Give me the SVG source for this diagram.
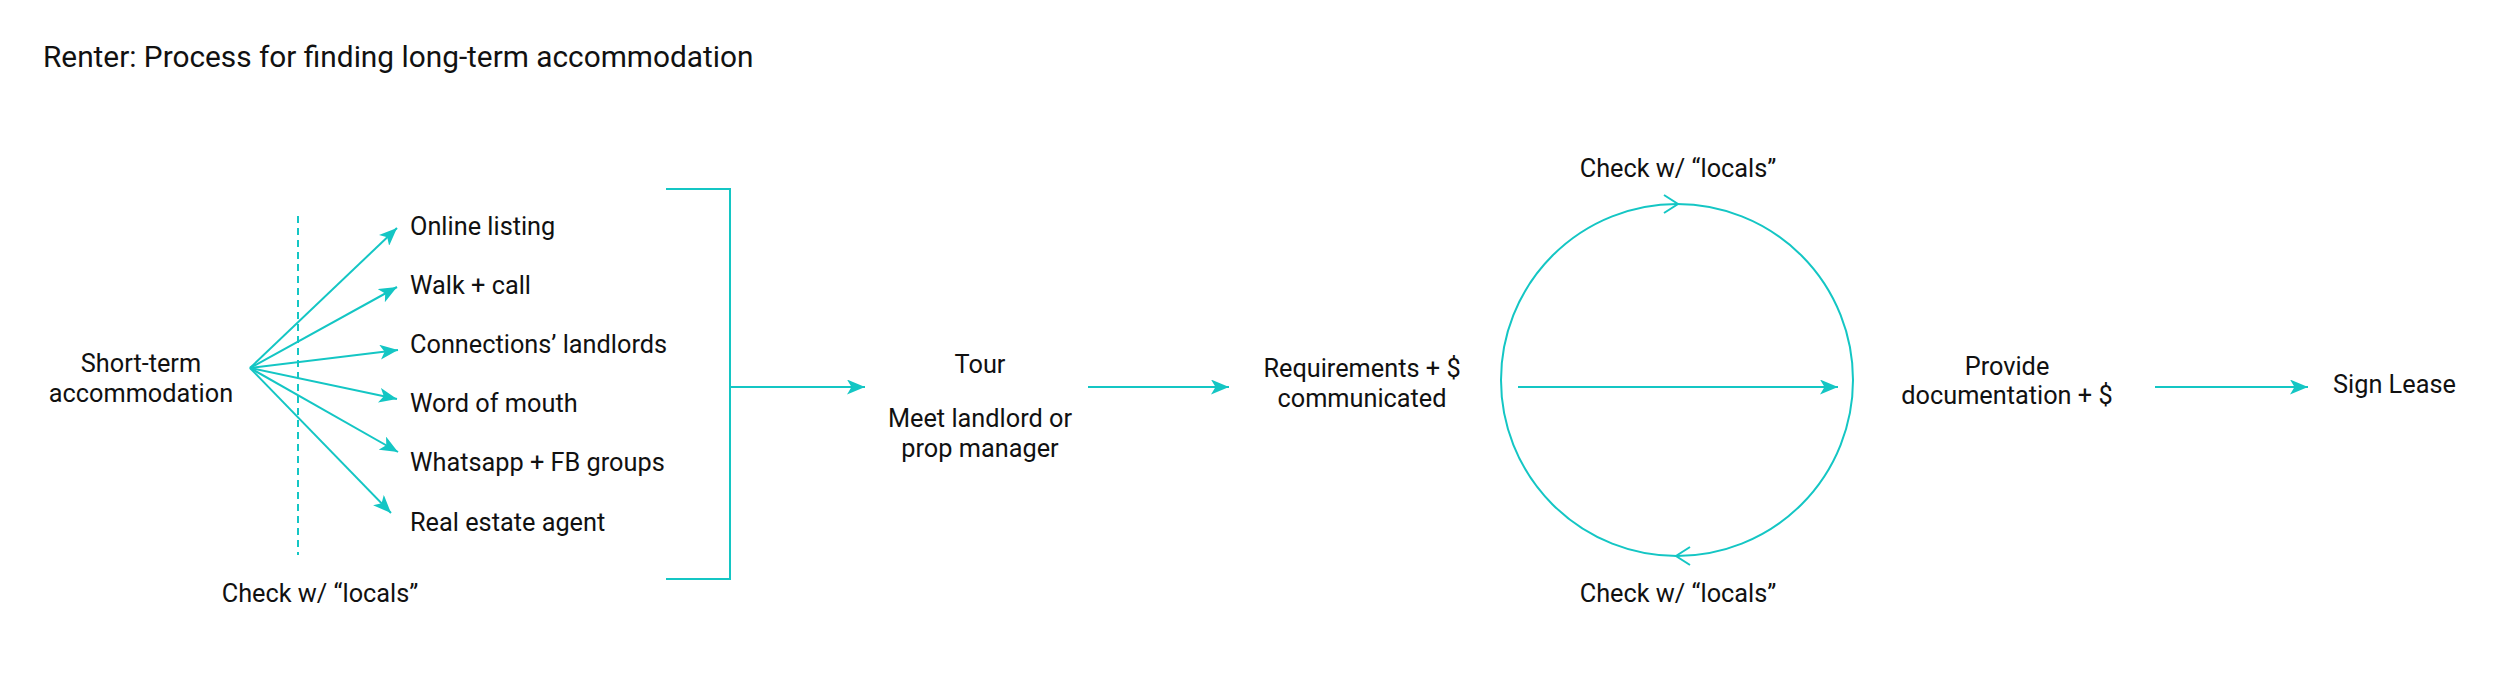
<svg xmlns="http://www.w3.org/2000/svg" width="2500" height="693" viewBox="0 0 2500 693">
  <style>
    text { font-family: Roboto, "Liberation Sans", sans-serif; fill: #111; }
    .t { font-size: 25.3px; }
    .title { font-size: 29.8px; }
    .c { text-anchor: middle; }
    .ln { stroke: #14C6C4; stroke-width: 2; fill: none; }
    .arr { marker-end: url(#ah); }
  </style>
  <defs>
    <marker id="ah" viewBox="0 0 18 15" refX="18" refY="7.5" markerWidth="18" markerHeight="15" markerUnits="userSpaceOnUse" orient="auto">
      <path d="M0,0 L18,7.5 L0,15 L4.5,7.5 Z" fill="#14C6C4"/>
    </marker>
  </defs>
  <rect width="2500" height="693" fill="#fff"/>

  <text class="title" x="43" y="67">Renter: Process for finding long-term accommodation</text>

  <g id="node-short-term">
    <text class="t c" x="141" y="372">Short-term</text>
    <text class="t c" x="141" y="402">accommodation</text>
  </g>
  <g id="node-online"><text class="t" x="410" y="235">Online listing</text></g>
  <g id="node-walk"><text class="t" x="410" y="294">Walk + call</text></g>
  <g id="node-connections"><text class="t" x="410" y="353">Connections’ landlords</text></g>
  <g id="node-word"><text class="t" x="410" y="412">Word of mouth</text></g>
  <g id="node-whatsapp"><text class="t" x="410" y="471">Whatsapp + FB groups</text></g>
  <g id="node-realestate"><text class="t" x="410" y="531">Real estate agent</text></g>
  <g id="label-check-left"><text class="t c" x="320" y="602">Check w/ “locals”</text></g>

  <g id="node-tour">
    <text class="t c" x="980" y="373">Tour</text>
    <text class="t c" x="980" y="427">Meet landlord or</text>
    <text class="t c" x="980" y="457">prop manager</text>
  </g>
  <g id="node-requirements">
    <text class="t c" x="1362" y="377">Requirements + $</text>
    <text class="t c" x="1362" y="407">communicated</text>
  </g>
  <g id="label-check-top"><text class="t c" x="1678" y="177">Check w/ “locals”</text></g>
  <g id="label-check-bottom"><text class="t c" x="1678" y="602">Check w/ “locals”</text></g>
  <g id="node-provide">
    <text class="t c" x="2007" y="375">Provide</text>
    <text class="t c" x="2007" y="404">documentation + $</text>
  </g>
  <g id="node-sign"><text class="t" x="2333" y="393">Sign Lease</text></g>

  <g id="connectors">
    <line class="ln" x1="298" y1="216" x2="298" y2="555" stroke-dasharray="7 5"/>
    <line class="ln arr" x1="250" y1="368" x2="397" y2="228"/>
    <line class="ln arr" x1="250" y1="368" x2="397" y2="287"/>
    <line class="ln arr" x1="250" y1="368" x2="398" y2="350"/>
    <line class="ln arr" x1="250" y1="368" x2="397" y2="399"/>
    <line class="ln arr" x1="250" y1="368" x2="398" y2="452"/>
    <line class="ln arr" x1="250" y1="368" x2="391" y2="513"/>
    <path class="ln" d="M666,189 H730 V579 H666"/>
    <line class="ln arr" x1="730" y1="387" x2="865" y2="387"/>
    <line class="ln arr" x1="1088" y1="387" x2="1229" y2="387"/>
    <circle class="ln" cx="1677" cy="380" r="176"/>
    <path class="ln" d="M1664,195 L1678,204 L1664,213"/>
    <path class="ln" d="M1690,547 L1676,556 L1690,565"/>
    <line class="ln arr" x1="1518" y1="387" x2="1838" y2="387"/>
    <line class="ln arr" x1="2155" y1="387" x2="2308" y2="387"/>
  </g>
</svg>
